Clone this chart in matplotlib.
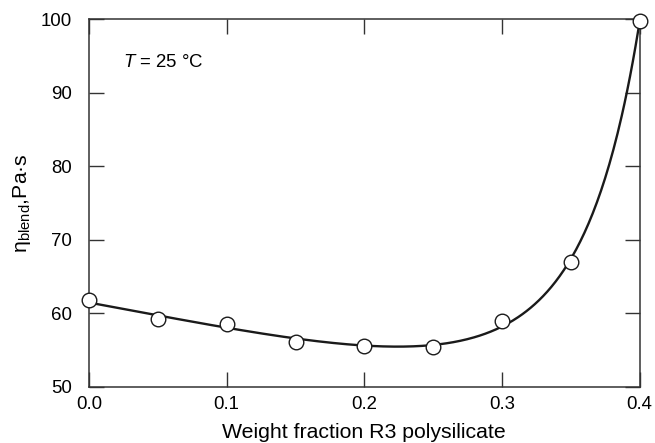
import numpy as np
import matplotlib
matplotlib.use("Agg")
import matplotlib.pyplot as plt

plt.rcParams['font.family'] = ['Liberation Sans', 'DejaVu Sans']
plt.rcParams['mathtext.fontset'] = 'custom'
plt.rcParams['mathtext.rm'] = 'Liberation Sans'
plt.rcParams['mathtext.it'] = 'Liberation Sans:italic'

# data
weight_fraction = [0.0, 0.05, 0.10, 0.15, 0.20, 0.25, 0.30, 0.35, 0.40]
viscosity = [61.8, 59.2, 58.5, 56.1, 55.6, 55.4, 59.0, 67.0, 99.8]
x_ticks = [0.0, 0.1, 0.2, 0.3, 0.4]
x_tick_labels = ["0.0", "0.1", "0.2", "0.3", "0.4"]
y_ticks = [50, 60, 70, 80, 90, 100]

# smooth trend line: least-squares fit of a + b*x + c*exp(s*(x/xmax)^p)
xw = np.asarray(weight_fraction, float)
yv = np.asarray(viscosity, float)
u = xw / xw.max()
best = None
for p in np.linspace(1.0, 6.0, 101):
    for s in np.linspace(1.0, 12.0, 221):
        A = np.column_stack([np.ones_like(xw), xw, np.exp(s * u ** p)])
        coef, *_ = np.linalg.lstsq(A, yv, rcond=None)
        r = np.sum((A @ coef - yv) ** 2)
        if best is None or r < best[0]:
            best = (r, p, s, coef)
_, pb, sb, cb = best
xs = np.linspace(xw[0], xw[-1], 400)
ys = cb[0] + cb[1] * xs + cb[2] * np.exp(sb * (xs / xw.max()) ** pb)

fig = plt.figure(figsize=(6.55, 4.43), dpi=100)
ax = fig.add_axes([0.1359, 0.1271, 0.8407, 0.8289])

ax.plot(xs, ys, color='#1a1a1a', lw=1.7, zorder=2)
ax.plot(weight_fraction, viscosity, 'o', ms=10.5, mfc='white', mec='#1a1a1a', mew=1.0,
        clip_on=False, zorder=3)

ax.set_xlim(0, 0.4)
ax.set_ylim(50, 100)
ax.set_xticks(x_ticks)
ax.set_xticklabels(x_tick_labels)
ax.set_yticks(y_ticks)
ax.tick_params(direction='in', length=10.5, width=1.0, top=True, right=True,
               labelsize=13.4, color='#333333')
ax.tick_params(axis='x', pad=7)
ax.tick_params(axis='y', pad=12)
for s in ax.spines.values():
    s.set_linewidth(1.1)
    s.set_color('#333333')

ax.set_xlabel('Weight fraction R3 polysilicate', fontsize=15.3, labelpad=7)
ax.set_ylabel('η' + r'$_{\mathrm{blend}}$' + ',Pa·s', fontsize=15.3, labelpad=6)
ax.text(0.0247, 94.2, r'$\mathit{T}$ = 25 °C', fontsize=13.4, va='center', ha='left')

fig.savefig('out.png', dpi=100)
